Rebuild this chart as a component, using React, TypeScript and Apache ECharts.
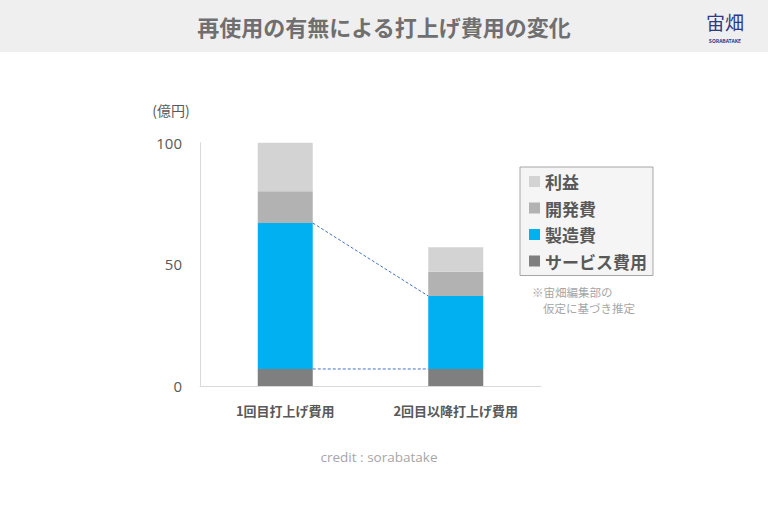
import React, { useEffect, useRef } from "react";
import * as echarts from "echarts";

const categories = ["1回目打上げ費用", "2回目以降打上げ費用"];
const serviceCost = [7, 7];
const manufacturingCost = [60, 30];
const developmentCost = [13, 10];
const profit = [20, 10];
const legendOrder = ["利益", "開発費", "製造費", "サービス費用"];
const yTicks = { min: 0, max: 100, interval: 50 };

const JP = '"Noto Sans CJK JP", "Noto Sans", sans-serif';
const BAR_W = 55;

export default function App() {
  const ref = useRef<HTMLDivElement>(null);
  useEffect(() => {
    if (!ref.current) return;
    const chart = echarts.init(ref.current, null, { renderer: "svg" });
    const connectors = [
      [0, serviceCost[0], serviceCost[1]],
      [0, serviceCost[0] + manufacturingCost[0], serviceCost[1] + manufacturingCost[1]],
    ];
    chart.setOption({
      animation: false,
      backgroundColor: "#ffffff",
      graphic: [
        { type: "rect", left: 0, top: 0, shape: { width: 768, height: 52 }, style: { fill: "#efefef" }, z: -1 },
        {
          type: "text", x: 384, y: 26,
          style: { text: "再使用の有無による打上げ費用の変化", font: `bold 22px ${JP}`, fill: "#6f6f6f", textAlign: "center", textVerticalAlign: "middle" },
        },
        {
          type: "text", x: 725, y: 21,
          style: { text: "宙畑", font: `19px ${JP}`, fill: "#2d3a8a", textAlign: "center", textVerticalAlign: "middle" },
        },
        {
          type: "text", x: 725, y: 40,
          style: { text: "SORABATAKE", font: `bold 5px ${JP}`, fill: "#2d3a8a", textAlign: "center", textVerticalAlign: "middle" },
        },
        {
          type: "text", x: 171, y: 110,
          style: { text: "(億円)", font: `14px ${JP}`, fill: "#595959", textAlign: "center", textVerticalAlign: "middle" },
        },
        {
          type: "text", x: 532, y: 292,
          style: { text: "※宙畑編集部の", font: `11.5px ${JP}`, fill: "#a6a6a6", textAlign: "left", textVerticalAlign: "middle" },
        },
        {
          type: "text", x: 543, y: 308,
          style: { text: "仮定に基づき推定", font: `11.5px ${JP}`, fill: "#a6a6a6", textAlign: "left", textVerticalAlign: "middle" },
        },
        {
          type: "text", x: 379, y: 457,
          style: { text: "credit : sorabatake", font: `13.5px "Open Sans", sans-serif`, fill: "#a6a6a6", textAlign: "center", textVerticalAlign: "middle" },
        },
      ],
      legend: {
        data: legendOrder,
        orient: "vertical",
        left: 520,
        top: 167,
        padding: [6, 6, 6, 9],
        backgroundColor: "#f5f5f5",
        borderColor: "#a6a6a6",
        borderWidth: 1,
        itemWidth: 11,
        itemHeight: 11,
        itemGap: 9.5,
        icon: "rect",
        textStyle: { fontFamily: JP, fontSize: 17, fontWeight: "bold", color: "#595959", lineHeight: 17, padding: [0, 0, 0, 0] },
        selectedMode: false,
      },
      grid: { left: 200, right: 227, top: 142.7, bottom: 125, containLabel: false },
      xAxis: {
        type: "category",
        data: categories,
        axisLine: { show: true, lineStyle: { color: "#d9d9d9", width: 1 } },
        axisTick: { show: false },
        axisLabel: { fontFamily: JP, fontSize: 13, fontWeight: "bold", color: "#595959", margin: 18 },
      },
      yAxis: {
        type: "value",
        min: yTicks.min,
        max: yTicks.max,
        interval: yTicks.interval,
        axisLine: { show: true, lineStyle: { color: "#d9d9d9", width: 1 } },
        axisTick: { show: false },
        splitLine: { show: false },
        axisLabel: { fontFamily: '"Open Sans", sans-serif', fontSize: 15, color: "#595959", margin: 18 },
      },
      series: [
        { name: "サービス費用", type: "bar", stack: "cost", data: serviceCost, barWidth: BAR_W, itemStyle: { color: "#7f7f7f" } },
        { name: "製造費", type: "bar", stack: "cost", data: manufacturingCost, barWidth: BAR_W, itemStyle: { color: "#00b0f0" } },
        { name: "開発費", type: "bar", stack: "cost", data: developmentCost, barWidth: BAR_W, itemStyle: { color: "#b2b2b2" } },
        { name: "利益", type: "bar", stack: "cost", data: profit, barWidth: BAR_W, itemStyle: { color: "#d3d3d3" } },
        {
          name: "connector",
          type: "custom",
          data: connectors,
          encode: { x: 0, y: [1, 2] },
          clip: false,
          z: 5,
          renderItem: (_params: any, api: any) => {
            const i0 = api.value(0);
            const a = api.coord([i0, api.value(1)]);
            const b = api.coord([i0 + 1, api.value(2)]);
            const half = BAR_W / 2;
            return {
              type: "line",
              shape: { x1: a[0] + half, y1: a[1], x2: b[0] - half, y2: b[1] },
              style: { stroke: "#4472c4", lineWidth: 1, lineDash: [3, 2], fill: null },
            };
          },
        },
      ],
    });
    return () => chart.dispose();
  }, []);
  return <div ref={ref} style={{ position: "fixed", left: 0, top: 0, width: 768, height: 511 }} />;
}
